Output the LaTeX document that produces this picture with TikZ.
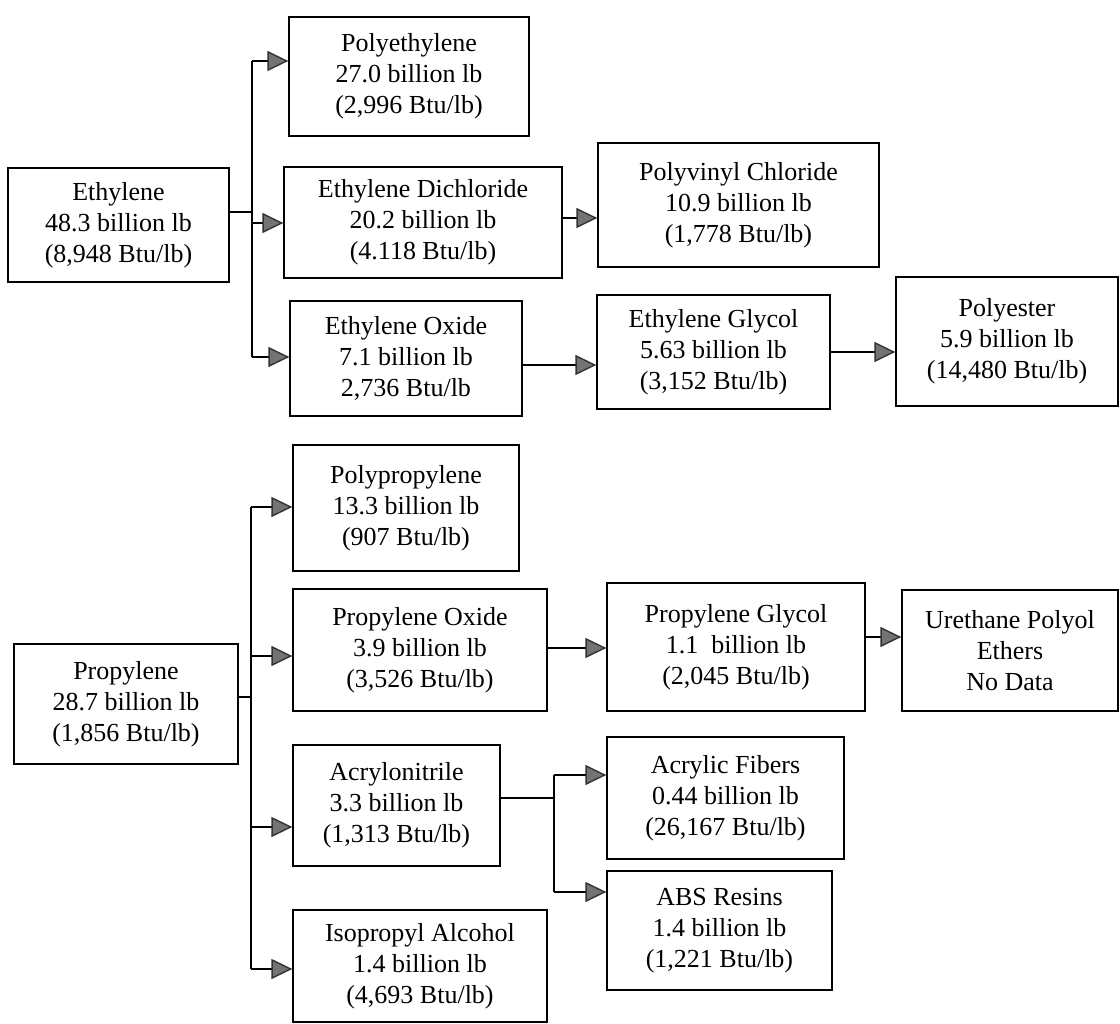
\documentclass[tikz,border=0pt]{standalone}
\usepackage{fontspec}
\setmainfont{Liberation Serif}
\usetikzlibrary{arrows.meta}
\tikzset{
  chem/.style={draw, line width=1.3pt, inner sep=0pt, align=center,
    font=\fontsize{26}{31}\selectfont},
  arr/.style={-{Triangle[length=21pt,width=20pt,fill=black!55,color=black!80]}, line width=1.4pt},
  link/.style={-, line width=1.4pt}
}
\begin{document}
\begin{tikzpicture}[x=1pt,y=-1pt]
  \useasboundingbox (0,0) rectangle (1120,1024);
  % ethylene tree
  \node (eth) [chem, minimum width=221pt, minimum height=114pt] at (118.5,225) {Ethylene\\48.3 billion lb\\(8,948 Btu/lb)};
  \node (pe)  [chem, minimum width=240pt, minimum height=119pt] at (409,76.5) {Polyethylene\\27.0 billion lb\\(2,996 Btu/lb)};
  \node (edc) [chem, minimum width=278pt, minimum height=111pt] at (423,222.5) {Ethylene Dichloride\\20.2 billion lb\\(4.118 Btu/lb)};
  \node (pvc) [chem, minimum width=281pt, minimum height=124pt] at (738.5,205) {Polyvinyl Chloride\\10.9 billion lb\\(1,778 Btu/lb)};
  \node (eo)  [chem, minimum width=232pt, minimum height=115pt] at (406,358.5) {Ethylene Oxide\\7.1 billion lb\\2,736 Btu/lb};
  \node (eg)  [chem, minimum width=233pt, minimum height=114pt] at (713.5,352) {Ethylene Glycol\\5.63 billion lb\\(3,152 Btu/lb)};
  \node (pes) [chem, minimum width=222pt, minimum height=129pt] at (1007,341.5) {Polyester\\5.9 billion lb\\(14,480 Btu/lb)};
  % propylene tree
  \node (prop) [chem, minimum width=224pt, minimum height=120pt] at (126,704) {Propylene\\28.7 billion lb\\(1,856 Btu/lb)};
  \node (pp)  [chem, minimum width=226pt, minimum height=126pt] at (406,508) {Polypropylene\\13.3 billion lb\\(907 Btu/lb)};
  \node (po)  [chem, minimum width=254pt, minimum height=122pt] at (420,650) {Propylene Oxide\\3.9 billion lb\\(3,526 Btu/lb)};
  \node (pg)  [chem, minimum width=258pt, minimum height=128pt] at (736,647) {Propylene Glycol\\1.1~ billion lb\\(2,045 Btu/lb)};
  \node (ure) [chem, minimum width=216pt, minimum height=121pt] at (1010,650.5) {Urethane Polyol\\Ethers\\No Data};
  \node (acn) [chem, minimum width=207pt, minimum height=121pt] at (396.5,805.5) {Acrylonitrile\\3.3 billion lb\\(1,313 Btu/lb)};
  \node (af)  [chem, minimum width=237pt, minimum height=122pt] at (725.5,798) {Acrylic Fibers\\0.44 billion lb\\(26,167 Btu/lb)};
  \node (abs) [chem, minimum width=225pt, minimum height=119pt] at (719.5,930.5) {ABS Resins\\1.4 billion lb\\(1,221 Btu/lb)};
  \node (ipa) [chem, minimum width=254pt, minimum height=112pt] at (420,966) {Isopropyl Alcohol\\1.4 billion lb\\(4,693 Btu/lb)};
  % junctions
  \coordinate (ej) at (252,212);
  \coordinate (et) at (252,61);
  \coordinate (eb) at (252,357);
  \coordinate (pj) at (251,697);
  \coordinate (pt) at (251,507);
  \coordinate (pb) at (251,969);
  \coordinate (aj) at (554,798);
  \coordinate (at) at (554,775);
  \coordinate (ab) at (554,892);
  % connectors
  \draw[link] (eth.east |- ej) -- (ej);
  \draw[link] (et) -- (eb);
  \draw[arr] (et) -- (pe.west |- et);
  \draw[arr] (ej |- 0,223) -- (edc.west |- 0,223);
  \draw[arr] (eb) -- (eo.west |- eb);
  \draw[arr] (edc.east |- 0,218) -- (pvc.west |- 0,218);
  \draw[arr] (eo.east |- 0,365) -- (eg.west |- 0,365);
  \draw[arr] (eg.east |- 0,352) -- (pes.west |- 0,352);
  \draw[link] (prop.east |- pj) -- (pj);
  \draw[link] (pt) -- (pb);
  \draw[arr] (pt) -- (pp.west |- pt);
  \draw[arr] (pj |- 0,656) -- (po.west |- 0,656);
  \draw[arr] (pj |- 0,827) -- (acn.west |- 0,827);
  \draw[arr] (pb) -- (ipa.west |- pb);
  \draw[arr] (po.east |- 0,648) -- (pg.west |- 0,648);
  \draw[arr] (pg.east |- 0,637) -- (ure.west |- 0,637);
  \draw[link] (acn.east |- aj) -- (aj);
  \draw[link] (at) -- (ab);
  \draw[arr] (at) -- (af.west |- at);
  \draw[arr] (ab) -- (abs.west |- ab);
\end{tikzpicture}
\end{document}
